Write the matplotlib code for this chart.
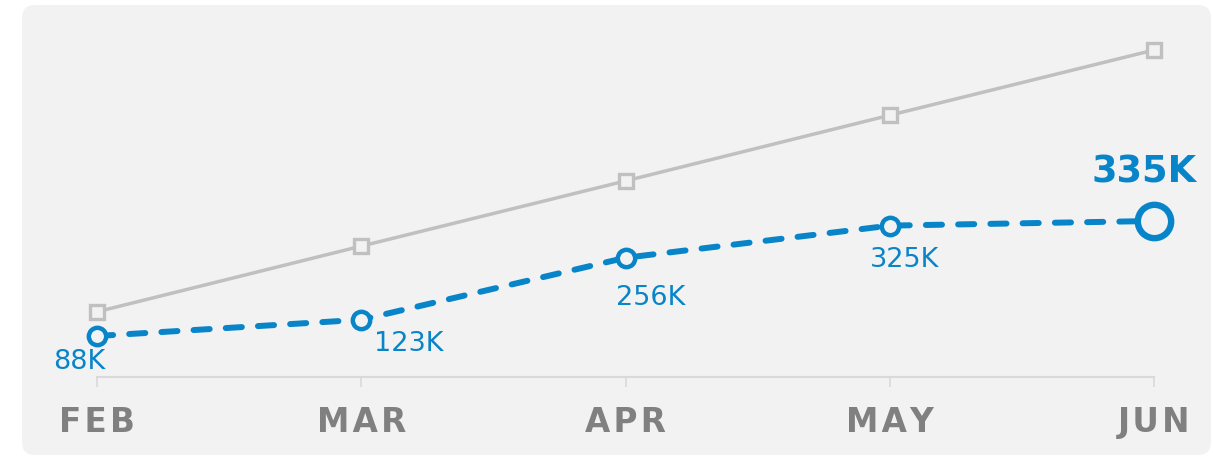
import matplotlib
matplotlib.use("Agg")
import matplotlib.pyplot as plt
from matplotlib.patches import FancyBboxPatch

# ---- data ----
months = ["FEB", "MAR", "APR", "MAY", "JUN"]
actual = [88, 123, 256, 325, 335]          # K
target = [140, 281, 421, 562, 702]         # K (grey reference line)
labels = ["88K", "123K", "256K", "325K", "335K"]

# ---- style ----
BLUE = "#0884c8"
GREY_LINE = "#c0c0c0"
GREY_TXT = "#808080"
AXIS = "#d9d9d9"
PANEL = "#f2f2f2"
# label offsets in pixels (dx to left edge, dy to top edge, negative = down)
label_offsets = [(-44, -13), (13, -11), (-9, -27), (-20, -21)]

W, H = 1213, 457
fig = plt.figure(figsize=(W / 100, H / 100), dpi=100)
fig.patch.set_facecolor("white")

# rounded panel background (display pixel coords)
px0, py0, px1, py1 = 22, 2, 1211, 452
panel = FancyBboxPatch((px0, py0), px1 - px0, py1 - py0,
                       boxstyle="round,pad=0,rounding_size=13",
                       facecolor=PANEL, edgecolor="none", transform=None, zorder=0)
fig.add_artist(panel)

ax_left, ax_right, ax_bottom_px, ax_top_px = 97, 1154, 377, 30
ax = fig.add_axes([ax_left / W, (H - ax_bottom_px) / H,
                   (ax_right - ax_left) / W, (ax_bottom_px - ax_top_px) / H])
ax.set_facecolor("none")
x = list(range(len(months)))
ax.set_xlim(0, len(months) - 1)
ax.set_ylim(0, 745)

# grey target line
ax.plot(x, target, color=GREY_LINE, lw=2.5, marker="s", ms=10, mew=2.4,
        mfc=PANEL, mec=GREY_LINE, clip_on=False, zorder=2)

# blue dashed actual line
ax.plot(x, actual, color=BLUE, lw=4.3, ls=(0, (2.7, 2.7)),
        dash_capstyle="round", clip_on=False, zorder=3)
ax.plot(x[:-1], actual[:-1], ls="none", marker="o", ms=12.5, mew=3.2,
        mfc=PANEL, mec=BLUE, clip_on=False, zorder=4)
ax.plot(x[-1:], actual[-1:], ls="none", marker="o", ms=24, mew=4.6,
        mfc=PANEL, mec=BLUE, clip_on=False, zorder=4)

# data labels
for i in range(len(months) - 1):
    dx, dy = label_offsets[i]
    ax.annotate(labels[i], (x[i], actual[i]), xytext=(dx * 0.72, dy * 0.72),
                textcoords="offset points", ha="left", va="top",
                fontsize=19.5, color=BLUE, family="DejaVu Sans", zorder=5)
ax.annotate(labels[-1], (x[-1], actual[-1]), xytext=(-62 * 0.72, 30 * 0.72),
            textcoords="offset points", ha="left", va="bottom",
            fontsize=26.5, fontweight="bold", color=BLUE, family="DejaVu Sans", zorder=5)

# axes styling
for s in ["top", "right", "left"]:
    ax.spines[s].set_visible(False)
ax.spines["bottom"].set_color(AXIS)
ax.spines["bottom"].set_linewidth(1.5)
ax.set_yticks([])
ax.set_xticks(x)
ax.set_xticklabels(["\u200a".join(m) for m in months], fontsize=23.5,
                   fontweight="bold", color=GREY_TXT, family="DejaVu Sans")
ax.tick_params(axis="x", length=7.2, width=1.2, color=AXIS, pad=13.5)

fig.savefig("out.png", dpi=100)
